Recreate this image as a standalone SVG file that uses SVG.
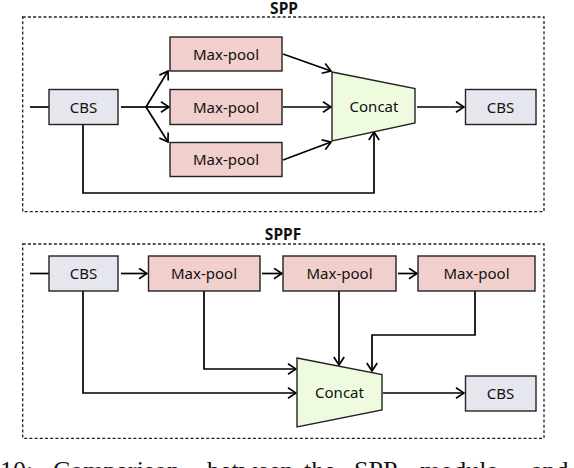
<svg xmlns="http://www.w3.org/2000/svg" width="574" height="468" viewBox="0 0 574 468">
<style>
.frame{fill:none;stroke:#222;stroke-width:1.3;stroke-dasharray:3 2.2}
.cbs{fill:#e6e6ef;stroke:#222;stroke-width:1.4}
.mp{fill:#f1cfcc;stroke:#222;stroke-width:1.4}
.cc{fill:#effbdf;stroke:#222;stroke-width:1.4}
.lbl{font-family:"Noto Sans","Open Sans",sans-serif;font-size:15px;fill:#111;text-anchor:middle}
.ttl{font-family:"Noto Sans","Open Sans",sans-serif;font-size:15.5px;font-weight:bold;fill:#111;text-anchor:middle}
.cap{font-family:"Liberation Serif","Times New Roman",serif;font-size:26px;fill:#111}
.ln{fill:none;stroke:#000;stroke-width:1.7}
</style>
<defs>
<marker id="ah" viewBox="0 0 10 12" refX="9" refY="6" markerWidth="10" markerHeight="12" markerUnits="userSpaceOnUse" orient="auto">
<path d="M1,0.8 L9,6 L1,11.2" fill="none" stroke="#000" stroke-width="1.7"/>
</marker>
</defs>
<rect class="frame" x="22.7" y="17" width="521.3" height="194.7"/>
<text class="ttl" x="284" y="14">SPP</text>
<rect class="frame" x="22.7" y="244" width="521.3" height="194.3"/>
<text class="ttl" x="283" y="240">SPPF</text>
<g id="connectors">
<line class="ln" x1="30" y1="107" x2="49" y2="107"/>
<polyline class="ln" points="121,107 146,107"/>
<line class="ln" x1="146" y1="107" x2="168" y2="71" marker-end="url(#ah)"/>
<line class="ln" x1="146" y1="107" x2="169" y2="107" marker-end="url(#ah)"/>
<line class="ln" x1="146" y1="107" x2="168" y2="142" marker-end="url(#ah)"/>
<line class="ln" x1="283" y1="54" x2="331" y2="71" marker-end="url(#ah)"/>
<line class="ln" x1="283" y1="107" x2="331" y2="107" marker-end="url(#ah)"/>
<line class="ln" x1="283" y1="160" x2="331" y2="142" marker-end="url(#ah)"/>
<polyline class="ln" points="83,124 83,193 374,193 374,132" marker-end="url(#ah)"/>
<line class="ln" x1="417" y1="107" x2="464" y2="107" marker-end="url(#ah)"/>
<line class="ln" x1="30" y1="273.5" x2="49" y2="273.5"/>
<line class="ln" x1="121" y1="273.5" x2="147" y2="273.5" marker-end="url(#ah)"/>
<line class="ln" x1="262" y1="273.5" x2="282" y2="273.5" marker-end="url(#ah)"/>
<line class="ln" x1="398" y1="273.5" x2="417" y2="273.5" marker-end="url(#ah)"/>
<polyline class="ln" points="204,291 204,369 296,369" marker-end="url(#ah)"/>
<polyline class="ln" points="83,291 83,393 296,393" marker-end="url(#ah)"/>
<line class="ln" x1="339" y1="291" x2="339" y2="365" marker-end="url(#ah)"/>
<polyline class="ln" points="475,291 475,335 372,335 372,371" marker-end="url(#ah)"/>
<line class="ln" x1="383" y1="393" x2="464" y2="393" marker-end="url(#ah)"/>
</g>
<g id="spp-cbs1"><rect class="cbs" x="49" y="89.5" width="69" height="35"/><text class="lbl" x="83.5" y="112.5">CBS</text></g>
<g id="spp-mp1"><rect class="mp" x="170" y="37" width="112" height="34"/><text class="lbl" x="226" y="59.5">Max-pool</text></g>
<g id="spp-mp2"><rect class="mp" x="170" y="89.5" width="112" height="35"/><text class="lbl" x="226" y="112.5">Max-pool</text></g>
<g id="spp-mp3"><rect class="mp" x="170" y="142.5" width="112" height="34"/><text class="lbl" x="226" y="165">Max-pool</text></g>
<g id="spp-concat"><polygon class="cc" points="332,72 415,88.5 415,123 332,141"/><text class="lbl" x="374" y="112">Concat</text></g>
<g id="spp-cbs2"><rect class="cbs" x="465.5" y="89.5" width="70.5" height="35"/><text class="lbl" x="500.5" y="112.5">CBS</text></g>
<g id="sppf-cbs1"><rect class="cbs" x="49" y="256" width="69" height="35"/><text class="lbl" x="83.5" y="279">CBS</text></g>
<g id="sppf-mp1"><rect class="mp" x="148.5" y="256" width="111.5" height="35"/><text class="lbl" x="204" y="279">Max-pool</text></g>
<g id="sppf-mp2"><rect class="mp" x="283" y="256" width="113" height="35"/><text class="lbl" x="339.5" y="279">Max-pool</text></g>
<g id="sppf-mp3"><rect class="mp" x="418" y="256" width="117" height="35"/><text class="lbl" x="476.5" y="279">Max-pool</text></g>
<g id="sppf-concat"><polygon class="cc" points="297,358 382,374.5 382,410 297,427"/><text class="lbl" x="339.5" y="398">Concat</text></g>
<g id="sppf-cbs2"><rect class="cbs" x="465.5" y="376" width="70.5" height="35"/><text class="lbl" x="500.5" y="399">CBS</text></g>
<g id="caption">
<text class="cap" x="0" y="479">10:</text>
<text class="cap" x="53" y="479">Comparison</text>
<text class="cap" x="207" y="479">between</text>
<text class="cap" x="304" y="479">the</text>
<text class="cap" x="354" y="479">SPP</text>
<text class="cap" x="420" y="479">module</text>
<text class="cap" x="531" y="479">and</text>
</g>
</svg>
